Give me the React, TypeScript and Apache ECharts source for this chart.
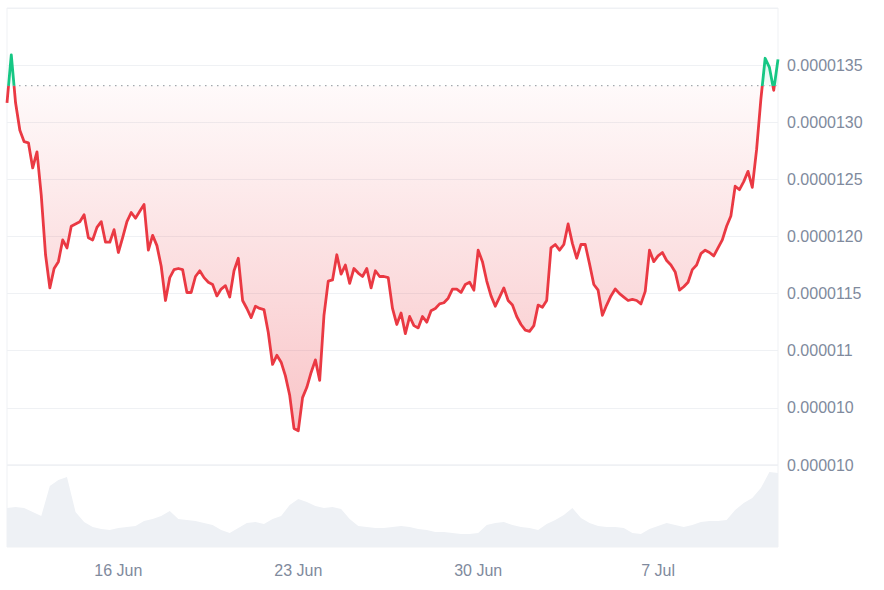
import React, { useEffect, useRef } from "react";
import * as echarts from "echarts";

// ---------- data ----------
const START_UTC = Date.UTC(2024, 5, 11, 16); // 11 Jun, 16:00
const PRICE_STEP_HOURS = 4;
const VOLUME_STEP_HOURS = 8;
const PRICE_UNIT = 1e-7;

// price, in units of 1e-7 (every 4 hours)
const priceE7 = [
  131.7, 135.9, 131.7, 129.3, 128.3, 128.2, 126.0, 127.4, 123.6, 118.4,
  115.5, 117.2, 117.8, 119.7, 119.0, 120.9, 121.1, 121.3, 121.9, 119.9,
  119.7, 120.8, 121.3, 119.5, 119.5, 120.6, 118.6, 119.9, 121.3, 122.1,
  121.6, 122.2, 122.8, 118.8, 120.1, 119.2, 117.4, 114.4, 116.4, 117.1,
  117.2, 117.1, 115.1, 115.1, 116.5, 117.0, 116.4, 116.0, 115.8, 114.8,
  115.4, 115.7, 114.7, 117.0, 118.1, 114.4, 113.7, 112.9, 113.9, 113.7,
  113.6, 111.6, 108.8, 109.6, 109.0, 107.8, 106.1, 103.2, 103.0, 105.9,
  106.8, 108.1, 109.2, 107.4, 113.1, 116.1, 116.2, 118.4, 116.7, 117.5,
  115.9, 117.2, 116.8, 116.5, 117.2, 115.5, 117.0, 116.5, 116.5, 116.4,
  113.7, 112.3, 113.3, 111.5, 113.0, 112.2, 112.0, 113.0, 112.5, 113.5,
  113.7, 114.1, 114.2, 114.6, 115.4, 115.4, 115.1, 115.8, 116.0, 115.3,
  118.8, 117.8, 116.1, 114.8, 113.9, 114.7, 115.5, 114.4, 114.0, 113.0,
  112.3, 111.8, 111.7, 112.2, 114.0, 113.8, 114.4, 119.0, 119.3, 118.8,
  119.3, 121.1, 119.4, 118.1, 119.3, 119.3, 117.6, 115.8, 115.3, 113.1,
  114.0, 114.8, 115.4, 115.0, 114.7, 114.4, 114.5, 114.4, 114.1, 115.2,
  118.8, 117.8, 118.3, 118.6, 117.9, 117.5, 116.9, 115.3, 115.6, 116.0,
  117.1, 117.5, 118.5, 118.8, 118.6, 118.3, 119.0, 119.7, 120.9, 121.8,
  124.4, 124.1, 124.8, 125.7, 124.3, 127.6, 132.0, 135.6, 134.8, 132.8,
  135.5,
];

// volume, in millions (every 8 hours)
const volumeM = [
  39, 40, 39, 35, 31, 61, 67, 70, 35, 25,
  20, 18, 17, 19, 20, 21, 26, 28, 31, 36,
  28, 27, 26, 24, 22, 17, 14, 19, 24, 25,
  23, 28, 31, 42, 48, 45, 41, 39, 40, 38,
  28, 21, 20, 19, 19, 20, 21, 20, 18, 17,
  15, 15, 14, 13, 13, 14, 22, 24, 25, 22,
  20, 19, 17, 23, 27, 32, 39, 29, 24, 21,
  20, 20, 19, 14, 13, 18, 21, 24, 22, 20,
  22, 25, 26, 26, 27, 37, 44, 49, 59, 75,
  74,
];

// opening price of the period (dotted reference line)
const BASELINE = 133.2 * PRICE_UNIT;

const yMin = 100 * PRICE_UNIT;
const yMax = 140 * PRICE_UNIT;
const yInterval = 5 * PRICE_UNIT;
const yTickLabels = [
  "0.000010",
  "0.000010",
  "0.000011",
  "0.0000115",
  "0.0000120",
  "0.0000125",
  "0.0000130",
  "0.0000135",
  "",
];
const xTickLabels = ["16 Jun", "23 Jun", "30 Jun", "7 Jul"];

const MONTHS = ["Jan", "Feb", "Mar", "Apr", "May", "Jun", "Jul", "Aug", "Sep", "Oct", "Nov", "Dec"];

function buildCategories(n: number, stepHours: number) {
  const out: string[] = [];
  for (let i = 0; i < n; i++) {
    const d = new Date(START_UTC + i * stepHours * 3600 * 1000);
    out.push(`${d.getUTCDate()} ${MONTHS[d.getUTCMonth()]}|${d.getUTCHours()}`);
  }
  return out;
}

const priceCats = buildCategories(priceE7.length, PRICE_STEP_HOURS);
const volumeCats = buildCategories(volumeM.length, VOLUME_STEP_HOURS);

// ---------- layout ----------
const W = 884;
const H = 590;
const GRID_LEFT = 7;
const GRID_RIGHT = 106;
const PRICE_TOP = 8;
const PRICE_HEIGHT = 457;
const VOL_TOP = PRICE_TOP + PRICE_HEIGHT;
const VOL_BOTTOM = 43;

const RED = "#ea3943";
const GREEN = "#16c784";
const GRID_COLOR = "#eff1f4";
const LABEL_COLOR = "#808a9d";
const FONT = "'Liberation Sans', Arial, Helvetica, sans-serif";

export default function App() {
  const ref = useRef<HTMLDivElement>(null);

  useEffect(() => {
    if (!ref.current) return;
    const chart = echarts.init(ref.current, null, { renderer: "svg" });

    const baseY = PRICE_TOP + ((yMax - BASELINE) / (yMax - yMin)) * PRICE_HEIGHT;
    const lowY = PRICE_TOP + PRICE_HEIGHT - 25;
    const tBase = (baseY - PRICE_TOP) / (lowY - PRICE_TOP);

    const areaGradient = new echarts.graphic.LinearGradient(
      0,
      PRICE_TOP,
      0,
      lowY,
      [
        { offset: 0, color: "rgba(22,199,132,0.30)" },
        { offset: tBase - 0.0001, color: "rgba(22,199,132,0.05)" },
        { offset: tBase, color: "rgba(234,57,67,0.025)" },
        { offset: 1, color: "rgba(234,57,67,0.30)" },
      ],
      true
    );

    chart.setOption({
      animation: false,
      textStyle: { fontFamily: FONT },
      grid: [
        {
          left: GRID_LEFT,
          right: GRID_RIGHT,
          top: PRICE_TOP,
          height: PRICE_HEIGHT,
          show: true,
          borderColor: GRID_COLOR,
          borderWidth: 1,
        },
        {
          left: GRID_LEFT,
          right: GRID_RIGHT,
          top: VOL_TOP,
          bottom: VOL_BOTTOM,
          show: true,
          borderColor: GRID_COLOR,
          borderWidth: 1,
        },
      ],
      xAxis: [
        {
          type: "category",
          gridIndex: 0,
          data: priceCats,
          boundaryGap: false,
          show: false,
        },
        {
          type: "category",
          gridIndex: 1,
          data: volumeCats,
          boundaryGap: false,
          axisLine: { show: false },
          axisTick: { show: false },
          splitLine: { show: false },
          axisLabel: {
            color: LABEL_COLOR,
            fontSize: 16,
            fontFamily: FONT,
            margin: 15,
            interval: (_i: number, v: string) => {
              const [label, hour] = v.split("|");
              return hour === "0" && xTickLabels.includes(label);
            },
            formatter: (v: string) => v.split("|")[0],
          },
        },
      ],
      yAxis: [
        {
          type: "value",
          gridIndex: 0,
          position: "right",
          min: yMin,
          max: yMax,
          interval: yInterval,
          axisLine: { show: false },
          axisTick: { show: false },
          splitLine: { show: true, lineStyle: { color: GRID_COLOR, width: 1 } },
          axisLabel: {
            color: LABEL_COLOR,
            fontSize: 16,
            fontFamily: FONT,
            margin: 9,
            formatter: (v: number) => {
              const idx = Math.round((v - yMin) / yInterval);
              return yTickLabels[idx] ?? "";
            },
          },
        },
        {
          type: "value",
          gridIndex: 1,
          min: 0,
          max: 82,
          show: false,
          splitLine: { show: false },
        },
      ],
      visualMap: {
        type: "piecewise",
        show: false,
        seriesIndex: 0,
        dimension: 1,
        pieces: [
          { gte: 0, lt: BASELINE, color: RED },
          { gte: BASELINE, lte: 1, color: GREEN },
        ],
      },
      series: [
        {
          type: "line",
          xAxisIndex: 0,
          yAxisIndex: 0,
          data: priceE7.map((v) => v * PRICE_UNIT),
          symbol: "none",
          showSymbol: false,
          lineStyle: { width: 2.8, join: "round" },
          areaStyle: { origin: BASELINE, color: areaGradient, opacity: 1 },
          z: 3,
        },
        {
          type: "line",
          xAxisIndex: 0,
          yAxisIndex: 0,
          data: priceCats.map(() => BASELINE),
          symbol: "none",
          showSymbol: false,
          silent: true,
          lineStyle: { type: [1.5, 4.5], color: "#8e939b", width: 1 },
          z: 4,
        },
        {
          type: "line",
          xAxisIndex: 1,
          yAxisIndex: 1,
          data: volumeM,
          symbol: "none",
          showSymbol: false,
          lineStyle: { width: 0 },
          areaStyle: { color: "#eef1f5", opacity: 1 },
          z: 1,
        },
      ],
    });

    return () => chart.dispose();
  }, []);

  return (
    <div
      ref={ref}
      style={{ position: "fixed", left: 0, top: 0, width: W, height: H, background: "#fff" }}
    />
  );
}
